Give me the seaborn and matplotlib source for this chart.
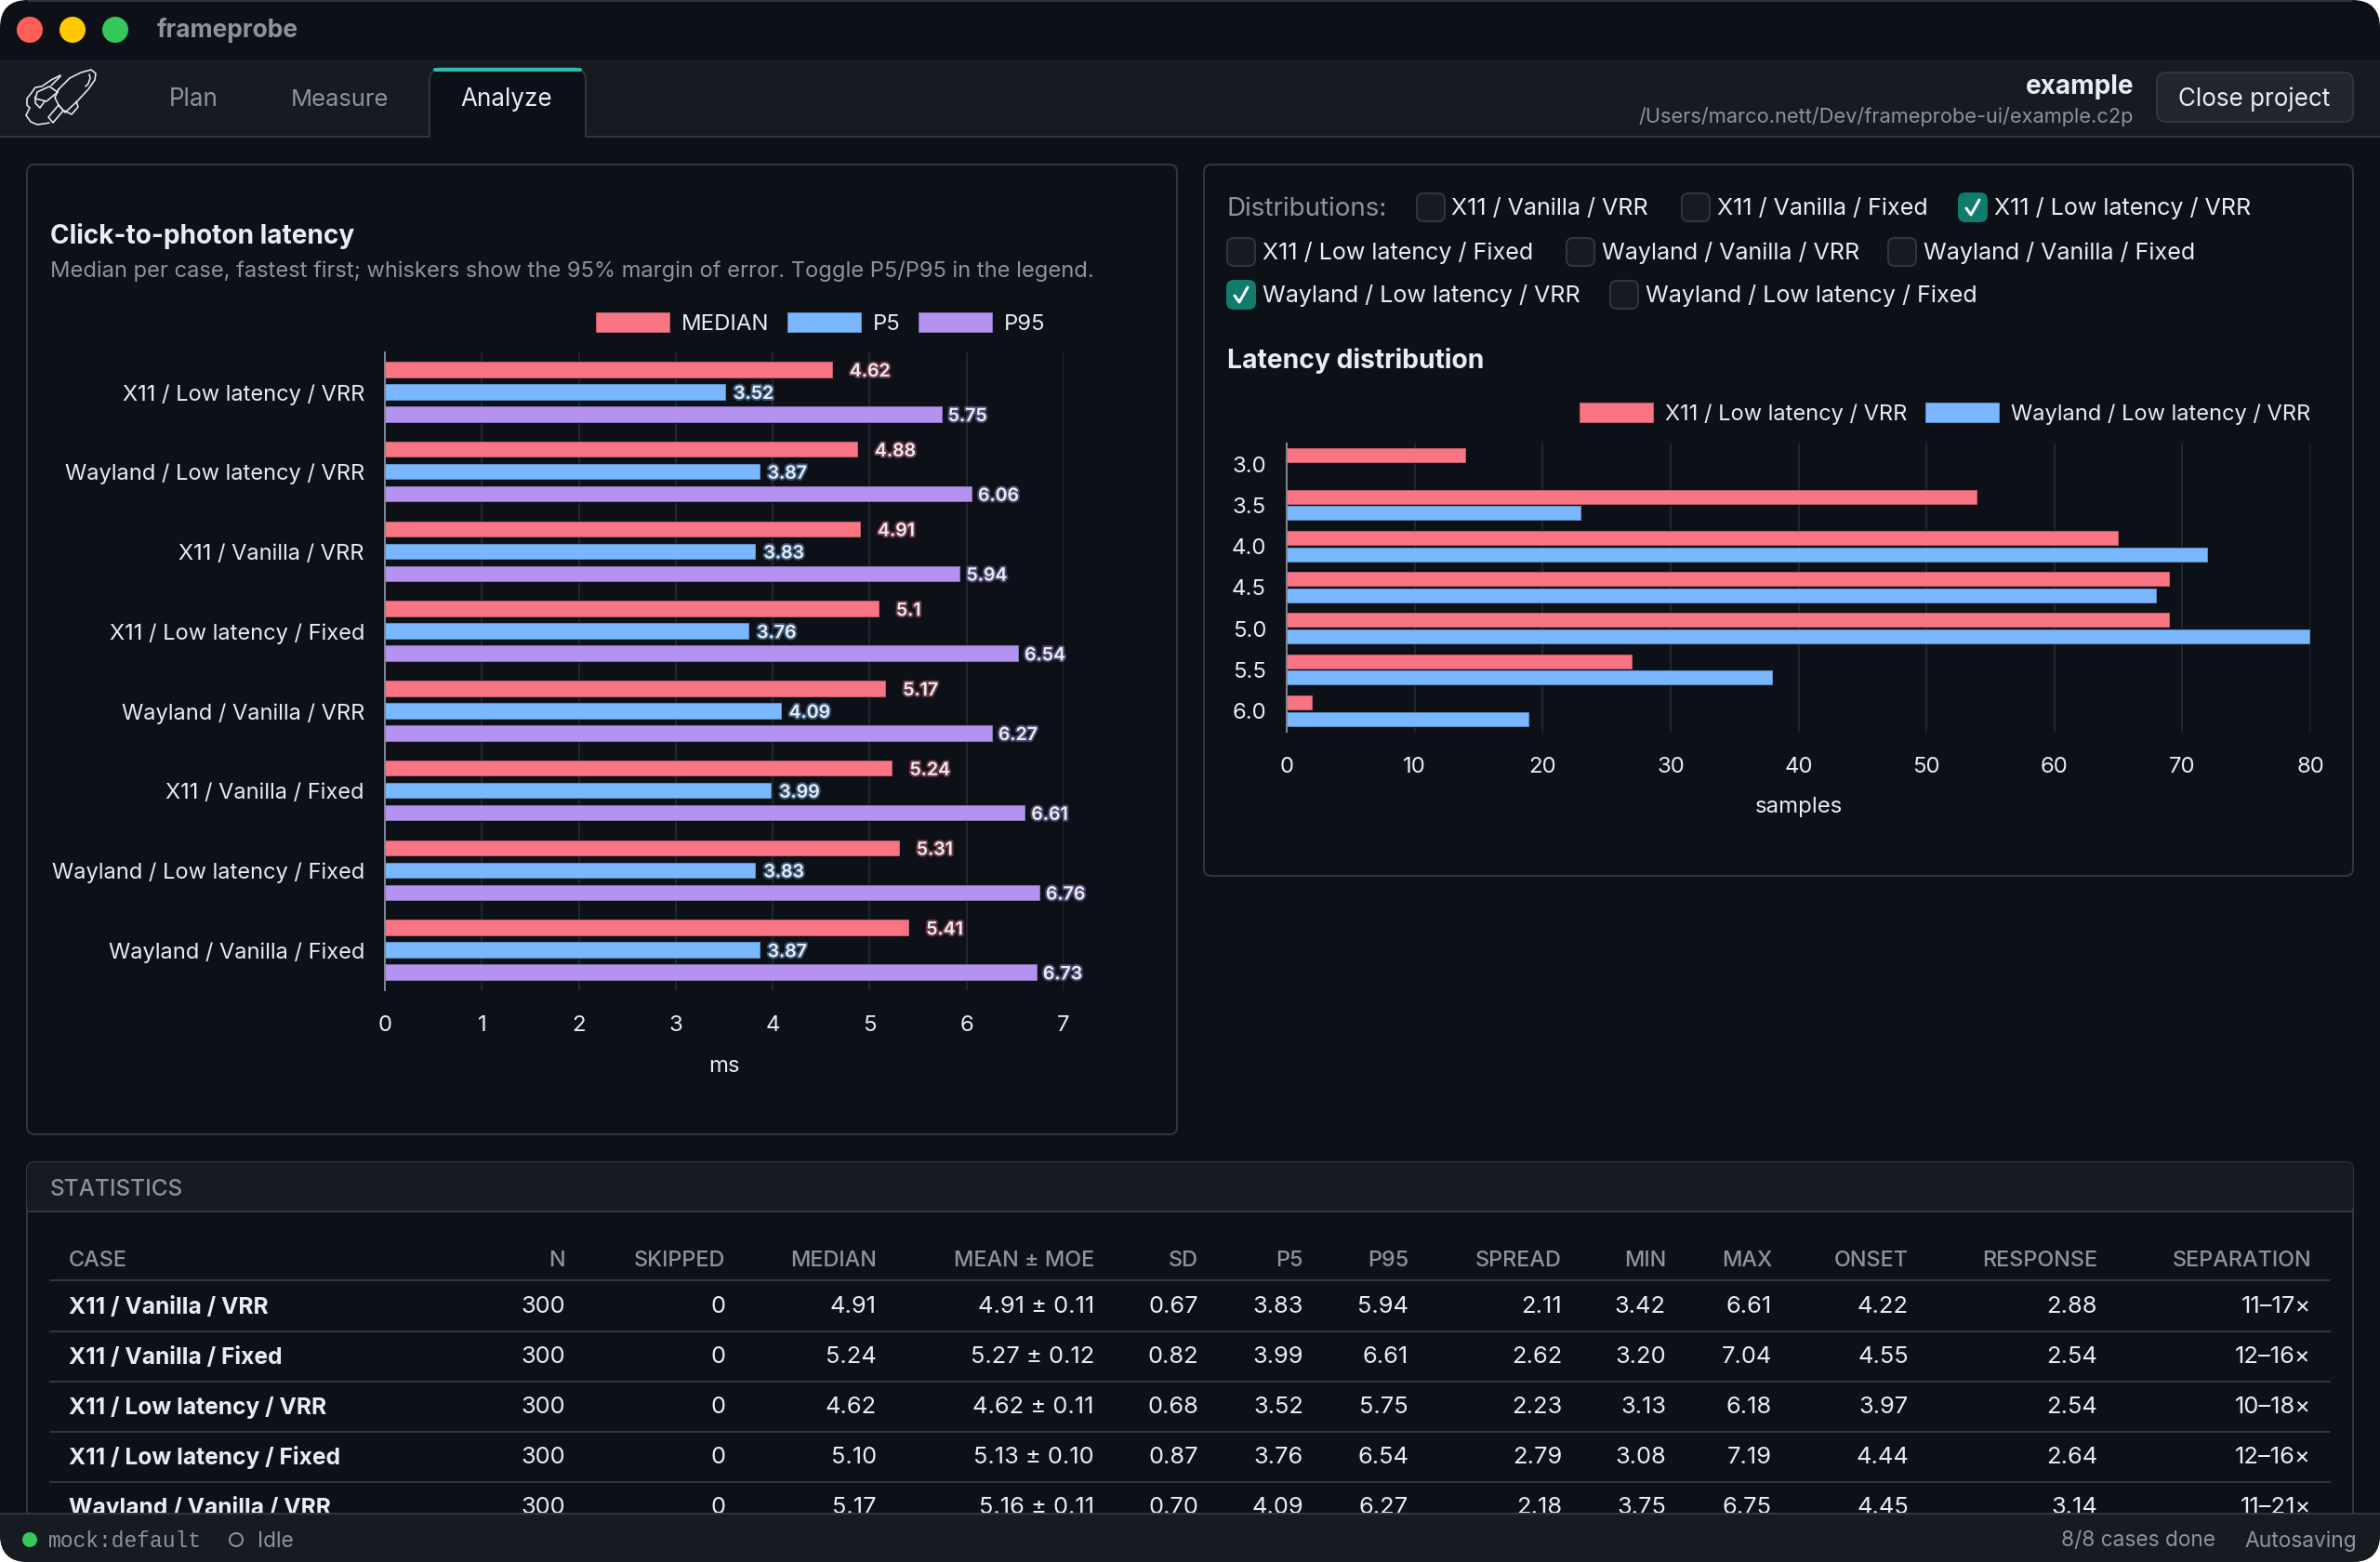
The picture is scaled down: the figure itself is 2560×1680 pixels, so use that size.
import matplotlib
matplotlib.use("Agg")
import matplotlib.pyplot as plt
import matplotlib.patheffects as pe
from matplotlib.patches import Circle, FancyBboxPatch, Rectangle
import pandas as pd
import seaborn as sns

W, H = 2560, 1680
BG = "#0d1117"
NAV = "#161b22"
LINE = "#30363d"
TEXT = "#e6edf3"
MUTED = "#8b949e"
RED = "#f97583"
BLUE = "#79b8ff"
PURPLE = "#b392f0"
TEAL = "#2dbdad"

# latency chart
cases = ["X11 / Low latency / VRR", "Wayland / Low latency / VRR", "X11 / Vanilla / VRR",
         "X11 / Low latency / Fixed", "Wayland / Vanilla / VRR", "X11 / Vanilla / Fixed",
         "Wayland / Low latency / Fixed", "Wayland / Vanilla / Fixed"]
median_ms = [4.62, 4.88, 4.91, 5.1, 5.17, 5.24, 5.31, 5.41]
p5_ms = [3.52, 3.87, 3.83, 3.76, 4.09, 3.99, 3.83, 3.87]
p95_ms = [5.75, 6.06, 5.94, 6.54, 6.27, 6.61, 6.76, 6.73]

# distribution chart
bins = ["3.0", "3.5", "4.0", "4.5", "5.0", "5.5", "6.0"]
x11_low_vrr = [14, 54, 65, 69, 69, 27, 2]
wayland_low_vrr = [0, 23, 72, 68, 80, 38, 19]

# statistics table
table_header = ["CASE", "N", "SKIPPED", "MEDIAN", "MEAN ± MOE", "SD", "P5", "P95", "SPREAD",
                "MIN", "MAX", "ONSET", "RESPONSE", "SEPARATION"]
table_rows = [
    ["X11 / Vanilla / VRR", "300", "0", "4.91", "4.91 ± 0.11", "0.67", "3.83", "5.94", "2.11", "3.42", "6.61", "4.22", "2.88", "11–17×"],
    ["X11 / Vanilla / Fixed", "300", "0", "5.24", "5.27 ± 0.12", "0.82", "3.99", "6.61", "2.62", "3.20", "7.04", "4.55", "2.54", "12–16×"],
    ["X11 / Low latency / VRR", "300", "0", "4.62", "4.62 ± 0.11", "0.68", "3.52", "5.75", "2.23", "3.13", "6.18", "3.97", "2.54", "10–18×"],
    ["X11 / Low latency / Fixed", "300", "0", "5.10", "5.13 ± 0.10", "0.87", "3.76", "6.54", "2.79", "3.08", "7.19", "4.44", "2.64", "12–16×"],
    ["Wayland / Vanilla / VRR", "300", "0", "5.17", "5.16 ± 0.11", "0.70", "4.09", "6.27", "2.18", "3.75", "6.75", "4.45", "3.14", "11–21×"],
]
col_right = [0, 608, 780, 943, 1177, 1289, 1402, 1515, 1680, 1792, 1906, 2053, 2256, 2486]
row_y = [1403.5, 1457.5, 1511, 1565, 1619]
rule_y = [1377, 1432, 1486, 1540, 1594]

# case picker: (label, box x, text x, row y, checked)
picker = [
    ("X11 / Vanilla / VRR", 1524, 1561, 223, False),
    ("X11 / Vanilla / Fixed", 1809, 1847, 223, False),
    ("X11 / Low latency / VRR", 2107, 2145, 223, True),
    ("X11 / Low latency / Fixed", 1320, 1358, 271, False),
    ("Wayland / Vanilla / VRR", 1685, 1723, 271, False),
    ("Wayland / Vanilla / Fixed", 2031, 2069, 271, False),
    ("Wayland / Low latency / VRR", 1320, 1358, 317, True),
    ("Wayland / Low latency / Fixed", 1732, 1770, 317, False),
]

# rough outline of the rocket logo, in pixels of a 100x76 box
logo_lines = [
    [(43, 30), (55, 18), (67, 12), (78, 9), (83, 13), (82, 20), (75, 30), (63, 43), (50, 55), (43, 47), (39, 39), (43, 30)],
    [(62, 43), (64, 49), (57, 57), (49, 53)],
    [(43, 47), (48, 53), (37, 66), (32, 60), (43, 47)],
    [(42, 33), (33, 27), (20, 33), (18, 40), (30, 43), (42, 33)],
    [(45, 15), (35, 20), (25, 27), (18, 28), (13, 35), (9, 40), (9, 47), (12, 50), (8, 58), (13, 65), (20, 68), (28, 67), (33, 66)],
    [(45, 16), (41, 20), (35, 26)],
    [(18, 38), (18, 45), (23, 50), (28, 43)],
    [(76, 14), (77, 18), (75, 24), (72, 27)],
]


def px(size):
    # css pixels to points at dpi 100
    return size * 0.72


def label(x, y, s, size=24, color=TEXT, weight="normal", ha="left", family="Inter", z=5):
    return bg.text(x, y + 2.5, s, fontsize=px(size), color=color, fontweight=weight, ha=ha, va="center",
                   family=family, zorder=z)


def box(x0, y0, x1, y1, radius=8, face=BG, edge=LINE, lw=2, z=2):
    patch = FancyBboxPatch((x0, y0), x1 - x0, y1 - y0, boxstyle=f"round,pad=0,rounding_size={radius}",
                           facecolor=face, edgecolor=edge, linewidth=px(lw), zorder=z)
    bg.add_patch(patch)
    return patch


def chart_axes(x0, y0, x1, y1):
    ax = fig.add_axes([x0 / W, 1 - y1 / H, (x1 - x0) / W, (y1 - y0) / H], zorder=3)
    ax.patch.set_alpha(0)
    return ax


def style_chart(ax, ylabel_size):
    sns.despine(ax=ax, top=True, right=True, bottom=True, left=False)
    ax.spines["left"].set_color("#7d8590")
    ax.spines["left"].set_linewidth(px(2))
    ax.grid(axis="x", color="#21262d", linewidth=px(2))
    ax.grid(axis="y", visible=False)
    ax.set_axisbelow(True)
    ax.tick_params(axis="y", length=0, pad=px(22), labelsize=px(ylabel_size), labelcolor=TEXT)
    ax.tick_params(axis="x", length=px(16), width=px(2), color="#30363d", pad=px(11),
                   labelsize=px(24), labelcolor=TEXT)
    ax.xaxis.get_major_ticks()[0].tick1line.set_color("#7d8590")
    ax.set_ylabel("")


sns.set_theme(style="dark")
plt.rcParams["font.family"] = ["Inter", "DejaVu Sans"]
fig = plt.figure(figsize=(W / 100, H / 100), dpi=100, facecolor="white")

# window chrome lives on one full-size axes in pixel coordinates
bg = fig.add_axes([0, 0, 1, 1], zorder=0)
bg.set_xlim(0, W)
bg.set_ylim(H, 0)
bg.axis("off")

window = FancyBboxPatch((0, 0), W, H, boxstyle="round,pad=0,rounding_size=30", facecolor=BG, edgecolor="none", zorder=0)
bg.add_patch(window)
bg.plot([30, W - 30], [0.5, 0.5], color="#3a3f46", lw=px(1.5), zorder=1)

nav = Rectangle((0, 64), W, 83, facecolor=NAV, edgecolor="none", zorder=1)
bg.add_patch(nav)
bg.plot([0, W], [147, 147], color=LINE, lw=px(2), zorder=1)
for x, c in zip([32, 78, 124], ["#ff5f57", "#ffc800", "#34c759"]):
    bg.add_patch(Circle((x, 32), 14, facecolor=c, edgecolor="none", zorder=2))
label(169, 30, "frameprobe", size=26.4, color=MUTED, weight="bold")

for line in logo_lines:
    bg.plot([20 + p[0] for p in line], [66 + p[1] for p in line], color=TEXT, lw=px(1.6), zorder=2,
            solid_joinstyle="round")

# active tab
box(462, 73, 630, 170, radius=14, face=BG, edge=LINE, z=2)
bg.add_patch(Rectangle((450, 148), 190, 30, facecolor=BG, edgecolor="none", zorder=2))
bg.plot([468, 624], [75, 75], color=TEAL, lw=px(4), zorder=3, solid_capstyle="round")
label(208, 105, "Plan", size=26, color=MUTED, ha="center")
label(365, 105, "Measure", size=25.6, color=MUTED, ha="center")
label(545, 105, "Analyze", size=26, ha="center")

label(2295, 91, "example", size=28, weight="bold", ha="right")
label(2295, 123, "/Users/marco.nett/Dev/frameprobe-ui/example.c2p", size=21.8, color=MUTED, ha="right")
box(2320, 78, 2531, 131, radius=10, face="#21262d", edge=LINE)
label(2425, 104, "Close project", size=26, ha="center")

# panels
box(29, 177, 1266, 1220)
box(1295, 177, 2531, 942)
label(54, 252, "Click-to-photon latency", size=28, weight="bold")
label(54, 289, "Median per case, fastest first; whiskers show the 95% margin of error. Toggle P5/P95 in the legend.",
      size=23.7, color=MUTED)

label(1320, 222, "Distributions:", size=27.8, color=MUTED)
for name, bx, tx, y, checked in picker:
    box(bx, y - 15, bx + 30, y + 15, radius=7, face="#0f7c6e" if checked else NAV,
        edge="#0f7c6e" if checked else LINE, z=4)
    if checked:
        bg.plot([bx + 8, bx + 13, bx + 22], [y + 1, y + 8, y - 8], color="white", lw=px(3), zorder=5)
    label(tx, y - 1.5, name, size=25.1)
label(1320, 385, "Latency distribution", size=28.3, weight="bold")

# latency chart
latency = pd.DataFrame({"case": cases, "MEDIAN": median_ms, "P5": p5_ms, "P95": p95_ms}).melt(
    id_vars="case", var_name="metric", value_name="ms")
ax1 = chart_axes(414, 379, 1144, 1065)
sns.barplot(data=latency, y="case", x="ms", hue="metric", orient="h", ax=ax1, errorbar=None, saturation=1,
            palette=[RED, BLUE, PURPLE], width=0.84, gap=0.28, edgecolor=(0.05, 0.07, 0.09, 0.35),
            linewidth=px(1.5))
ax1.set_xlim(0, 7)
ax1.set_ylim(7.5, -0.5)
ax1.set_xticks(range(8))
style_chart(ax1, 23.6)
ax1.set_xlabel("ms", fontsize=px(24), color=TEXT, labelpad=px(22))
for container, color, pad in zip(ax1.containers, [RED, BLUE, PURPLE], [18, 8, 6]):
    texts = ax1.bar_label(container, fmt="%g", padding=px(pad), fontsize=px(19.5), color=TEXT, fontweight="semibold")
    for t in texts:
        t.xyann = (t.xyann[0], t.xyann[1] - 1.5)
        t.set_path_effects([pe.withStroke(linewidth=px(4), foreground=color, alpha=0.4)])
sns.move_legend(ax1, "center right", bbox_to_anchor=(1124 / W, 1 - 348 / H), bbox_transform=fig.transFigure,
                ncol=3, title=None, frameon=False, fontsize=px(24), labelcolor=TEXT, handlelength=3.33,
                handleheight=1, handletextpad=0.5, columnspacing=0.8, borderpad=0, borderaxespad=0)

# distribution chart
dist = pd.DataFrame({"bin": bins, "X11 / Low latency / VRR": x11_low_vrr,
                     "Wayland / Low latency / VRR": wayland_low_vrr}).melt(
    id_vars="bin", var_name="case", value_name="samples")
ax2 = chart_axes(1384, 477, 2485, 787)
sns.barplot(data=dist, y="bin", x="samples", hue="case", orient="h", ax=ax2, errorbar=None, saturation=1,
            palette=[RED, BLUE], width=0.8, gap=0.09, edgecolor=(0.05, 0.07, 0.09, 0.35), linewidth=px(1.5))
for patch in ax2.patches:
    if patch.get_width() == 0:
        patch.set_visible(False)
ax2.set_xlim(0, 80)
ax2.set_ylim(6.5, -0.5)
ax2.set_xticks(range(0, 90, 10))
style_chart(ax2, 24)
ax2.set_xlabel("samples", fontsize=px(24), color=TEXT, labelpad=px(21))
sns.move_legend(ax2, "center right", bbox_to_anchor=(2485 / W, 1 - 445 / H), bbox_transform=fig.transFigure,
                ncol=2, title=None, frameon=False, fontsize=px(23.6), labelcolor=TEXT, handlelength=3.39,
                handleheight=1.02, handletextpad=0.51, columnspacing=0.81, borderpad=0, borderaxespad=0)

# statistics panel
box(29, 1250, 2531, 1700)
bg.add_patch(FancyBboxPatch((29, 1250), 2502, 53, boxstyle="round,pad=0,rounding_size=8", facecolor=NAV,
                            edgecolor="none", zorder=2))
bg.add_patch(Rectangle((30, 1280), 2500, 23, facecolor=NAV, edgecolor="none", zorder=2))
bg.plot([29, 2531], [1303, 1303], color=LINE, lw=px(2), zorder=3)
label(54, 1277, "STATISTICS", size=24.3, color=MUTED, weight="medium")

label(74, 1353, table_header[0], size=23.4, color=MUTED, weight="medium")
for name, x in zip(table_header[1:], col_right[1:]):
    label(x, 1353, name, size=23.4, color=MUTED, weight="medium", ha="right")
for y in rule_y:
    bg.plot([54, 2506], [y, y], color=LINE, lw=px(2), zorder=3)
for row, y in zip(table_rows, row_y):
    label(74, y, row[0], size=24.6, weight="bold")
    for value, x in zip(row[1:], col_right[1:]):
        label(x, y, value, size=25.5, ha="right")

# status bar covers the last table row
bar = Rectangle((0, 1628), W, 52, facecolor=NAV, edgecolor="none", zorder=6)
bg.add_patch(bar)
bar.set_clip_path(window)
bg.plot([0, W], [1628, 1628], color=LINE, lw=px(2), zorder=6)
bg.add_patch(Circle((32, 1656), 8, facecolor="#34c759", edgecolor="none", zorder=7))
label(52, 1655, "mock:default", size=23, color=MUTED, family="Liberation Mono", z=7)
bg.add_patch(Circle((254, 1656), 7, facecolor="none", edgecolor=MUTED, linewidth=px(2), zorder=7))
label(277, 1655, "Idle", size=22.8, color=MUTED, z=7)
label(2383, 1655, "8/8 cases done", size=22.7, color=MUTED, ha="right", z=7)
label(2535, 1655, "Autosaving", size=22.8, color=MUTED, ha="right", z=7)

fig.savefig("out.png", dpi=100, facecolor=fig.get_facecolor())
